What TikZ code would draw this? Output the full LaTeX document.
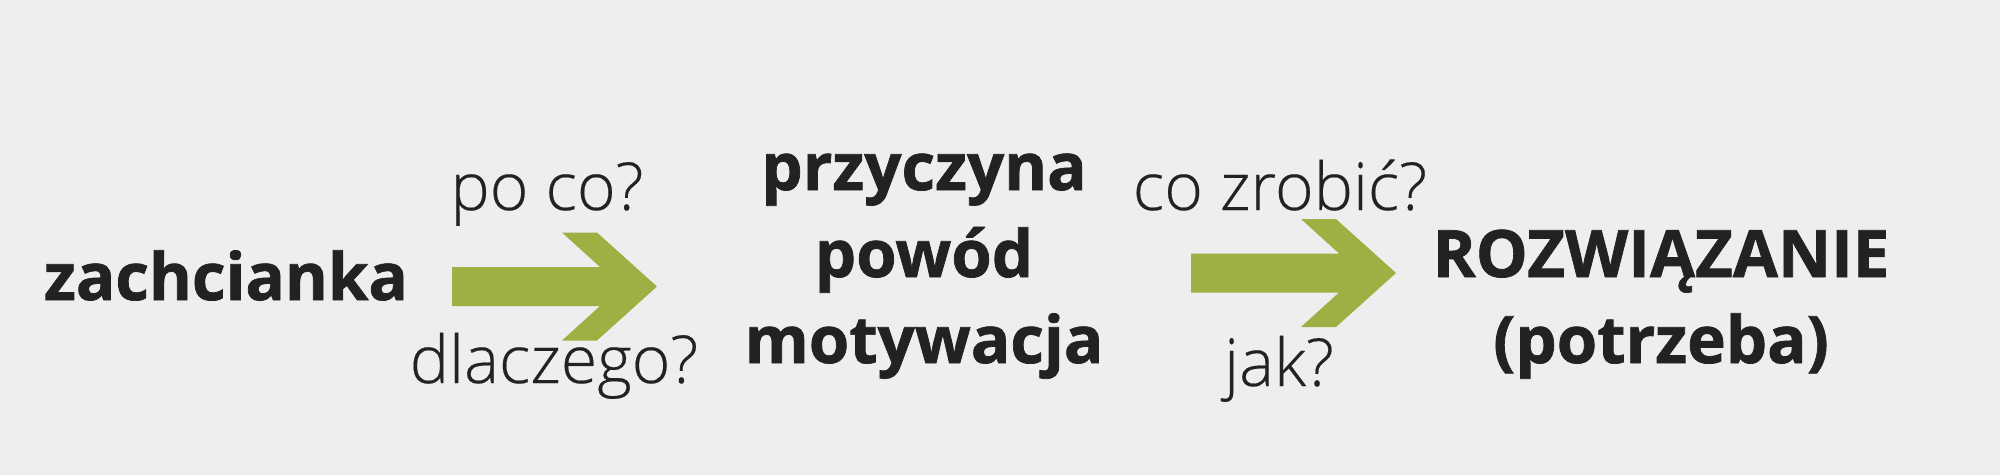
\documentclass[tikz,border=0pt]{standalone}
\usepackage{fontspec}
\setmainfont{Open Sans}
\newfontfamily\heavyfont{Open Sans}[UprightFont={* Bold}, FakeBold=1.1]
\IfFontExistsTF{Open Sans Light}{\newfontfamily\lightfont{Open Sans Light}[FakeBold=0.3]}{\newfontfamily\lightfont{Open Sans}}
\definecolor{paper}{HTML}{EEEEEE}
\definecolor{ink}{HTML}{222222}
\definecolor{olive}{HTML}{9DB043}

\begin{document}
\begin{tikzpicture}[line join=miter,
	word/.style={anchor=base, text=ink, inner sep=0pt, font=\heavyfont\fontsize{18.6}{22}\selectfont},
	question/.style={anchor=base, text=ink, inner sep=0pt, font=\lightfont\fontsize{18.8}{22}\selectfont},
	arrowfill/.style={fill=olive}]
	
	\fill [paper] (0,0) rectangle (20,4.75);
	\useasboundingbox (0,0) rectangle (20,4.75);
	
	\node [word] (zach) at (2.26,1.75) {zachcianka};
	
	\node [word] (przycz) at (9.24,2.85) {przyczyna};
	\node [word] (powod) at (9.24,1.98) {powód};
	\node [word] (motyw) at (9.24,1.12) {motywacja};
	
	\node [word] (rozw) at (16.61,1.98) {ROZWIĄZANIE};
	\node [word] (potrz) at (16.61,1.12) {(potrzeba)};
	
	%first arrow
	\begin{scope}[shift={(4.52,1.885)}]
	\coordinate (a1) at (0,0);
	\fill [arrowfill] (0,0.195) -- (1.48,0.195) -- (1.10,0.54) -- (1.45,0.54) -- 
	(2.05,0) -- (1.45,-0.54) -- (1.10,-0.54) -- (1.48,-0.195) -- (0,-0.195) -- cycle;
	\end{scope}
	\node [question] (poco) at (5.47,2.65) {po co?};
	\node [question] (dlacz) at (5.54,0.92) {dlaczego?};
	
	%second arrow
	\begin{scope}[shift={(11.91,2.02)}]
	\coordinate (a2) at (0,0);
	\fill [arrowfill] (0,0.195) -- (1.48,0.195) -- (1.10,0.54) -- (1.45,0.54) -- 
	(2.05,0) -- (1.45,-0.54) -- (1.10,-0.54) -- (1.48,-0.195) -- (0,-0.195) -- cycle;
	\end{scope}
	\node [question] (cozrob) at (12.80,2.65) {co zrobić?};
	\node [question] (jak) at (12.79,0.89) {jak?};
	
\end{tikzpicture}
\end{document}
